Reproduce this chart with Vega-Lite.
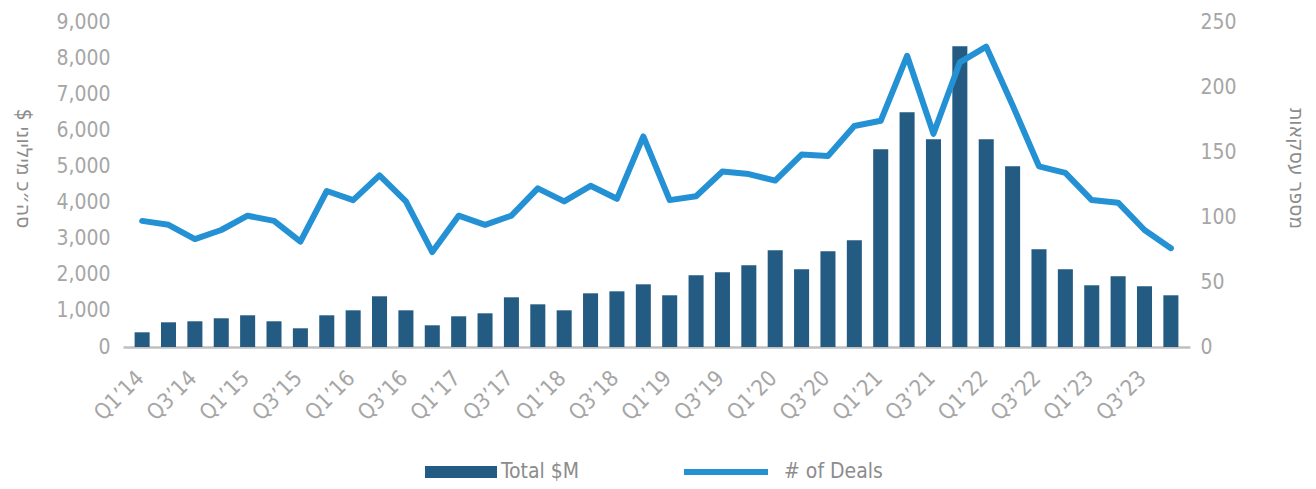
{
  "$schema": "https://vega.github.io/schema/vega-lite/v6.json",
  "width": 1067,
  "height": 325,
  "autosize": "none",
  "padding": {"left": 123, "top": 22, "right": 126, "bottom": 142},
  "background": "white",
  "config": {
    "view": {"stroke": null},
    "font": "DejaVu Sans Condensed, sans-serif",
    "axis": {"grid": false, "ticks": false, "labelColor": "#A6A6A6", "labelFontSize": 21, "titleColor": "#8C8C8C", "titleFontSize": 21, "titleFontWeight": "normal", "labelFont": "DejaVu Sans Condensed, sans-serif", "titleFont": "DejaVu Sans Condensed, sans-serif"},
    "legend": {"labelFont": "DejaVu Sans Condensed, sans-serif"}
  },
  "data": {
    "values": [
      {"q": "Q1’14", "total": 407, "deals": 97},
      {"q": "Q2’14", "total": 684, "deals": 94},
      {"q": "Q3’14", "total": 712, "deals": 83},
      {"q": "Q4’14", "total": 795, "deals": 90},
      {"q": "Q1’15", "total": 878, "deals": 101},
      {"q": "Q2’15", "total": 712, "deals": 97},
      {"q": "Q3’15", "total": 518, "deals": 81},
      {"q": "Q4’15", "total": 878, "deals": 120},
      {"q": "Q1’16", "total": 1016, "deals": 113},
      {"q": "Q2’16", "total": 1404, "deals": 132},
      {"q": "Q3’16", "total": 1016, "deals": 112},
      {"q": "Q4’16", "total": 601, "deals": 73},
      {"q": "Q1’17", "total": 850, "deals": 101},
      {"q": "Q2’17", "total": 933, "deals": 94},
      {"q": "Q3’17", "total": 1376, "deals": 101},
      {"q": "Q4’17", "total": 1182, "deals": 122},
      {"q": "Q1’18", "total": 1016, "deals": 112},
      {"q": "Q2’18", "total": 1487, "deals": 124},
      {"q": "Q3’18", "total": 1542, "deals": 114},
      {"q": "Q4’18", "total": 1736, "deals": 162},
      {"q": "Q1’19", "total": 1432, "deals": 113},
      {"q": "Q2’19", "total": 1986, "deals": 116},
      {"q": "Q3’19", "total": 2069, "deals": 135},
      {"q": "Q4’19", "total": 2263, "deals": 133},
      {"q": "Q1’20", "total": 2678, "deals": 128},
      {"q": "Q2’20", "total": 2152, "deals": 148},
      {"q": "Q3’20", "total": 2650, "deals": 147},
      {"q": "Q4’20", "total": 2955, "deals": 170},
      {"q": "Q1’21", "total": 5475, "deals": 174},
      {"q": "Q2’21", "total": 6500, "deals": 224},
      {"q": "Q3’21", "total": 5752, "deals": 164},
      {"q": "Q4’21", "total": 8327, "deals": 219},
      {"q": "Q1’22", "total": 5752, "deals": 231},
      {"q": "Q2’22", "total": 5004, "deals": 186},
      {"q": "Q3’22", "total": 2706, "deals": 139},
      {"q": "Q4’22", "total": 2152, "deals": 134},
      {"q": "Q1’23", "total": 1709, "deals": 113},
      {"q": "Q2’23", "total": 1958, "deals": 111},
      {"q": "Q3’23", "total": 1681, "deals": 90},
      {"q": "Q4’23", "total": 1432, "deals": 76}
    ]
  },
  "encoding": {
    "x": {
      "field": "q", "type": "ordinal", "sort": null,
      "scale": {"paddingInner": 0.43, "paddingOuter": 0.44},
      "axis": {
        "title": null, "labelAngle": -45, "labelPadding": 20, "labelOffset": -9, "labelOverlap": false, "labelFontSize": 22,
        "labelExpr": "test(/^Q[13]/, datum.value) ? datum.value : ''",
        "domainColor": "#BFBFBF", "domainWidth": 2.5
      }
    }
  },
  "layer": [
    {
      "mark": {"type": "bar"},
      "encoding": {
        "y": {
          "field": "total", "type": "quantitative",
          "scale": {"domain": [0, 9000], "nice": false},
          "axis": {"title": "סה״כ מיליוני $‏", "titleAngle": 90, "titlePadding": 43, "titleY": 146, "values": [0,1000,2000,3000,4000,5000,6000,7000,8000,9000], "format": ",d", "domain": false, "labelPadding": 13}
        },
        "color": {
          "datum": "Total $M", "type": "nominal",
          "scale": {"domain": ["Total $M", "# of Deals"], "range": ["#245B82", "#2391D4"]},
          "legend": {
            "title": null, "orient": "none", "direction": "horizontal", "legendX": 298, "legendY": 410,
            "columnPadding": 104, "labelFontSize": 21, "labelColor": "#8C8C8C", "labelOffset": 0,
            "symbolSize": 6400, "symbolType": "M-1,-0.15H1V0.15H-1Z", "symbolStrokeWidth": 0,
            "encode": {
              "symbols": {
                "update": {
                  "shape": {"signal": "datum.value === '# of Deals' ? 'M-1.05,-0.075H1.05V0.075H-1.05Z' : 'M-0.9,-0.15H0.9V0.15H-0.9Z'"},
                  "fill": {"signal": "datum.value === '# of Deals' ? '#2391D4' : '#245B82'"},
                  "strokeWidth": {"value": 0},
                  "opacity": {"value": 1}
                }
              },
              "labels": {
                "update": {
                  "dx": {"signal": "datum.value === '# of Deals' ? 18 : 0"}
                }
              }
            }
          }
        }
      }
    },
    {
      "mark": {"type": "line", "strokeWidth": 6, "strokeCap": "round", "strokeJoin": "round"},
      "encoding": {
        "y": {
          "field": "deals", "type": "quantitative",
          "scale": {"domain": [0, 250], "nice": false},
          "axis": {"orient": "right", "title": "מספר עסקאות", "titleAngle": 90, "titlePadding": 49, "titleY": 146, "values": [0,50,100,150,200,250], "domain": false, "labelPadding": 10}
        },
        "color": {"datum": "# of Deals", "type": "nominal"}
      }
    }
  ],
  "resolve": {"scale": {"y": "independent"}}
}
